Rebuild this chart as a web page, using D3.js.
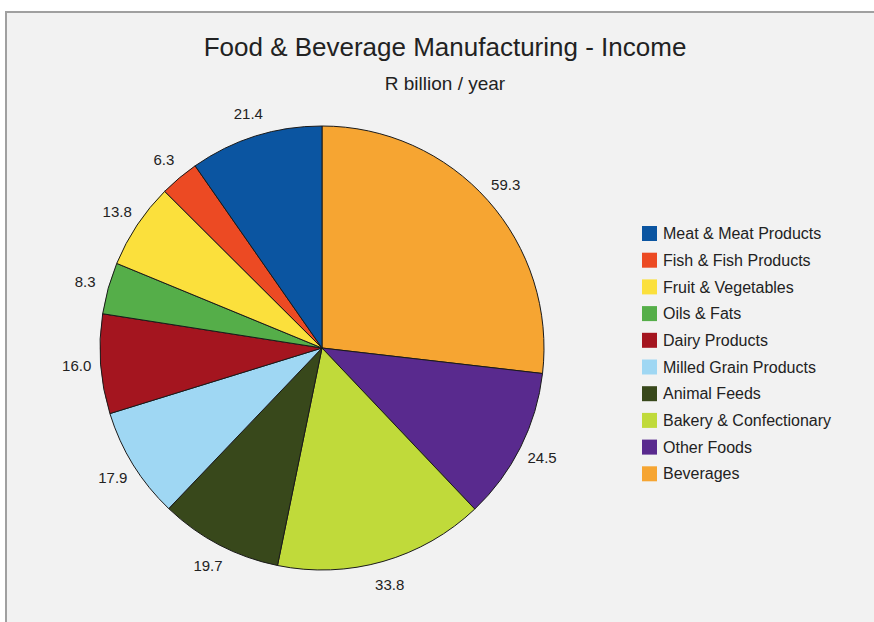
<!DOCTYPE html>
<html>
<head>
<meta charset="utf-8">
<script src="https://cdn.jsdelivr.net/npm/d3@7"></script>
<style>
  body { margin: 0; background: #ffffff; }
  svg { display: block; }
  text { font-family: "Liberation Sans Narrow", "Liberation Sans", Arial, sans-serif; fill: #222; }
</style>
</head>
<body>
<div id="chart"></div>
<script>
// ---- data, in legend order
var categories = ["Meat & Meat Products", "Fish & Fish Products", "Fruit & Vegetables", "Oils & Fats",
                  "Dairy Products", "Milled Grain Products", "Animal Feeds", "Bakery & Confectionary",
                  "Other Foods", "Beverages"];
var values = [21.4, 6.3, 13.8, 8.3, 16.0, 17.9, 19.7, 33.8, 24.5, 59.3];
var colours = ["#0b55a1", "#ec4a23", "#fbe03c", "#55ae49", "#a4151f",
               "#9fd7f3", "#38481b", "#c0da3a", "#592a8e", "#f6a532"];

var width = 874, height = 622;
var cx = 322, cy = 348, radius = 222;

var svg = d3.select("#chart").append("svg")
    .attr("width", width)
    .attr("height", height);

// frame
svg.append("rect")
    .attr("x", 6).attr("y", 12)
    .attr("width", width + 10).attr("height", height + 10)
    .attr("fill", "#f2f2f2")
    .attr("stroke", "#a0a0a0")
    .attr("stroke-width", 2);

svg.append("text")
    .attr("x", 445).attr("y", 56)
    .attr("text-anchor", "middle")
    .style("font-size", "26px")
    .text("Food & Beverage Manufacturing - Income");

svg.append("text")
    .attr("x", 445).attr("y", 90)
    .attr("text-anchor", "middle")
    .style("font-size", "19px")
    .text("R billion / year");

// pie drawn from the last category (Beverages) clockwise from 12 o'clock
var data = categories.map((c, i) => ({name: c, value: values[i], colour: colours[i]})).reverse();

var pie = d3.pie().sort(null).value(d => d.value);
var arc = d3.arc().innerRadius(0).outerRadius(radius);
var labelArc = d3.arc().innerRadius(radius + 24).outerRadius(radius + 24);

var g = svg.append("g").attr("transform", "translate(" + cx + "," + cy + ")");
var arcs = pie(data);

g.selectAll("path")
    .data(arcs)
  .enter().append("path")
    .attr("d", arc)
    .attr("fill", d => d.data.colour)
    .attr("stroke", "#1a1a1a")
    .attr("stroke-width", 1);

g.selectAll("text.lbl")
    .data(arcs)
  .enter().append("text")
    .attr("class", "lbl")
    .attr("transform", d => "translate(" + labelArc.centroid(d) + ")")
    .attr("text-anchor", "middle")
    .attr("dy", "0.35em")
    .style("font-size", "15px")
    .text(d => d3.format(".1f")(d.data.value));

// legend
var legend = svg.append("g").attr("transform", "translate(642,226)");
var item = legend.selectAll("g")
    .data(categories)
  .enter().append("g")
    .attr("transform", (d, i) => "translate(0," + (i * 26.7) + ")");

item.append("rect")
    .attr("width", 15).attr("height", 15)
    .attr("fill", (d, i) => colours[i]);

item.append("text")
    .attr("x", 21).attr("y", 7.5)
    .attr("dy", "0.35em")
    .style("font-size", "16px")
    .text(d => d);
</script>
</body>
</html>
